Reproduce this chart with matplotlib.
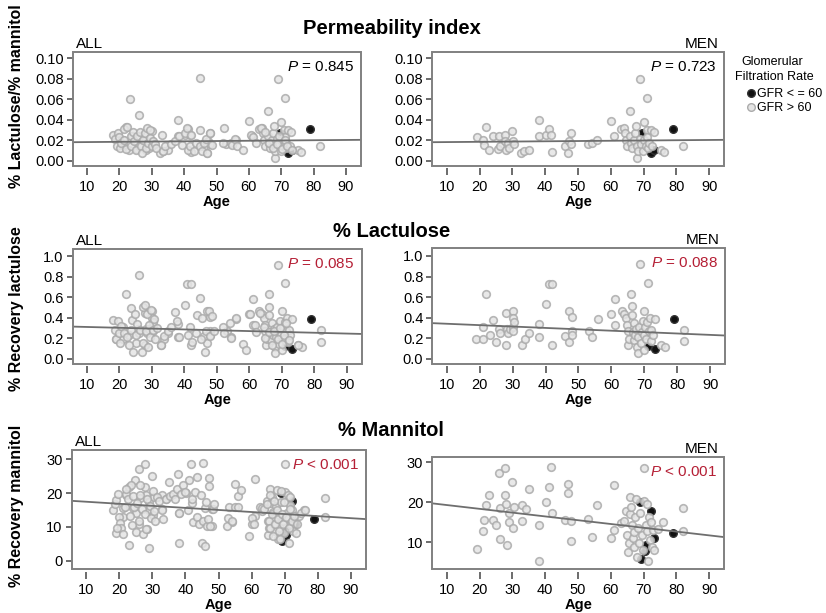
import matplotlib
matplotlib.use('Agg')
from matplotlib import pyplot as plt
from matplotlib.patches import Rectangle
from matplotlib.lines import Line2D
from matplotlib.ticker import FormatStrFormatter

plt.rcParams['font.family'] = ['Liberation Sans', 'DejaVu Sans']
plt.rcParams['mathtext.fontset'] = 'custom'
plt.rcParams['mathtext.rm'] = 'Liberation Sans'
plt.rcParams['mathtext.it'] = 'Liberation Sans:italic'

# ---- permeability index (lactulose / mannitol) ----
perm_men_age = [19.1, 21, 21.2, 22, 23, 24, 25.5, 26, 26.2, 27.6, 27.9, 28.1, 28.6, 29.1, 30, 30.2, 30.4,
                32.7, 33.4, 35, 38, 38, 40.2, 41.1, 41.7, 42.1, 46, 47, 47.3, 48, 48, 52.9, 54.4, 55.9,
                60, 61, 63.1, 64.1, 64.4, 64.7, 64.9, 65.8, 66, 66.2, 66.5, 67, 67.5, 67.8, 68, 68, 68.2,
                68.8, 69, 69.2, 69.8, 70, 70, 70.6, 70.9, 71, 71.1, 71.4, 71.6, 72.1, 72.6, 73.1, 75.2,
                76.2, 82.1]
perm_men_val = [0.023, 0.020, 0.015, 0.033, 0.010, 0.024, 0.011, 0.024, 0.014, 0.025, 0.019, 0.010, 0.017,
                0.012, 0.029, 0.019, 0.016, 0.007, 0.009, 0.010, 0.040, 0.024, 0.025, 0.031, 0.025, 0.008,
                0.014, 0.007, 0.019, 0.027, 0.016, 0.016, 0.017, 0.020, 0.039, 0.024, 0.031, 0.032, 0.027,
                0.020, 0.014, 0.049, 0.024, 0.017, 0.012, 0.020, 0.027, 0.034, 0.014, 0.003, 0.009, 0.021,
                0.080, 0.016, 0.009, 0.038, 0.020, 0.014, 0.030, 0.061, 0.023, 0.012, 0.017, 0.030, 0.014,
                0.028, 0.010, 0.008, 0.014]
perm_women_age = [17.9, 18.6, 19.2, 19.6, 19.9, 20.2, 20.6, 21.3, 21.5, 22, 22.3, 23.2, 23.5, 23.7, 24.3,
                  24.5, 25, 25.5, 26.1, 26.4, 26.6, 27.1, 27.4, 27.8, 28.1, 28.6, 28.8, 29.4, 29.6, 30.2,
                  30.5, 30.9, 31.2, 33.2, 33.5, 34.2, 36, 37.3, 38.3, 39.4, 40.4, 40.9, 41.1, 41.7, 42.1,
                  43.1, 43.8, 44.8, 45, 45, 45.5, 46.2, 46.8, 47.2, 48, 48.6, 52.4, 52, 54.7, 55.7, 56.4,
                  58.1, 60.8, 61.4, 62.2, 63.6, 64.9, 66.3, 67.3, 68.7, 69.3, 70.1, 71.1, 71.8, 73.4]
perm_women_val = [0.025, 0.021, 0.014, 0.027, 0.023, 0.012, 0.017, 0.031, 0.020, 0.011, 0.033, 0.060,
                  0.024, 0.014, 0.028, 0.019, 0.010, 0.024, 0.045, 0.028, 0.014, 0.007, 0.020, 0.027,
                  0.012, 0.032, 0.017, 0.022, 0.030, 0.014, 0.019, 0.016, 0.012, 0.025, 0.009, 0.014,
                  0.016, 0.019, 0.024, 0.015, 0.027, 0.032, 0.010, 0.014, 0.025, 0.009, 0.017, 0.014,
                  0.030, 0.081, 0.009, 0.017, 0.021, 0.007, 0.027, 0.015, 0.032, 0.017, 0.015, 0.021,
                  0.014, 0.010, 0.025, 0.023, 0.017, 0.032, 0.028, 0.017, 0.012, 0.016, 0.024, 0.011,
                  0.020, 0.014, 0.010]
perm_low_age = [69.5, 72.1, 73.3, 79]          # GFR <= 60
perm_low_val = [0.027, 0.007, 0.010, 0.031]
perm_fit_all = (0.01785, 0.000026)             # intercept, slope
perm_fit_men = (0.01785, 0.000026)

# ---- % lactulose ----
lac_men_age = [18.9, 21, 21, 23, 24, 25, 25.8, 26.1, 27.9, 27.9, 28.3, 28.6, 29.1, 30, 30, 30.2, 30.4,
               30.2, 32.7, 33.7, 35, 38, 38, 40.1, 40.9, 41.9, 42.1, 46, 47, 47, 48, 48, 48, 53.2, 54.2,
               55.9, 60, 61, 61, 63.1, 63.9, 64.4, 64.7, 64.9, 65.1, 65.4, 66, 66.2, 66.2, 66.5, 66.8,
               67, 67.2, 67.5, 67.8, 68, 68.2, 68.5, 68.8, 69, 69.2, 69.5, 69.8, 70, 70, 70.3, 70.6,
               70.9, 71.1, 71.4, 71.6, 71.9, 72.1, 72.6, 73.1, 75, 76.2, 82.1, 82.1, 22]
lac_men_val = [0.19, 0.19, 0.31, 0.23, 0.38, 0.16, 0.29, 0.25, 0.45, 0.14, 0.29, 0.25, 0.29, 0.47, 0.40,
               0.31, 0.36, 0.27, 0.14, 0.19, 0.25, 0.34, 0.21, 0.53, 0.73, 0.73, 0.14, 0.22, 0.16, 0.47,
               0.41, 0.27, 0.23, 0.27, 0.21, 0.39, 0.44, 0.58, 0.33, 0.47, 0.44, 0.40, 0.33, 0.27, 0.14,
               0.19, 0.63, 0.51, 0.43, 0.26, 0.18, 0.35, 0.23, 0.29, 0.12, 0.06, 0.21, 0.31, 0.92, 0.15,
               0.26, 0.37, 0.23, 0.47, 0.09, 0.31, 0.19, 0.36, 0.74, 0.27, 0.40, 0.17, 0.28, 0.23, 0.39,
               0.14, 0.12, 0.28, 0.17, 0.63]
lac_women_age = [17.9, 18.6, 18.9, 19.6, 19.9, 20.2, 20.6, 21.3, 22.3, 23, 23.5, 23.7, 24.3, 24.7, 25,
                 25.5, 26.1, 26.4, 26.8, 27.1, 27.4, 27.8, 28.1, 28.4, 28.8, 29.1, 29.4, 29.8, 30.2, 30.5,
                 30.9, 31.5, 32.9, 33.7, 35, 36, 37, 37.6, 38.3, 41.1, 41.7, 42.4, 43.5, 43.8, 44.8, 45.2,
                 45.5, 46.2, 46.8, 47.5, 48, 48.6, 49.1, 51.9, 52.3, 54, 54.4, 56, 58.1, 59.1, 60.3, 61.6,
                 61.9, 63.4, 64.4, 64.9, 66, 67, 67.5, 68.7, 69.5, 70, 70.6, 71.3, 72.1, 74.9]
lac_women_val = [0.38, 0.28, 0.19, 0.37, 0.25, 0.16, 0.32, 0.25, 0.21, 0.14, 0.50, 0.28, 0.07, 0.44,
                 0.23, 0.34, 0.82, 0.28, 0.07, 0.51, 0.16, 0.53, 0.27, 0.44, 0.12, 0.33, 0.21, 0.48, 0.28,
                 0.39, 0.19, 0.30, 0.14, 0.22, 0.27, 0.31, 0.46, 0.37, 0.21, 0.23, 0.31, 0.17, 0.25, 0.43,
                 0.59, 0.19, 0.40, 0.07, 0.27, 0.47, 0.22, 0.42, 0.27, 0.31, 0.25, 0.35, 0.20, 0.40, 0.15,
                 0.09, 0.44, 0.33, 0.26, 0.45, 0.31, 0.20, 0.26, 0.14, 0.27, 0.19, 0.30, 0.15, 0.23, 0.35,
                 0.18, 0.14]
lac_low_age = [71.1, 73.1, 79.1]
lac_low_val = [0.13, 0.10, 0.39]
lac_fit_all = (0.3197, -0.000803)
lac_fit_men = (0.355, -0.00135)

# ---- % mannitol ----
man_men_age = [19.1, 21, 21.2, 22, 23, 24, 25, 25.9, 26.1, 26.3, 27.9, 27.9, 28.1, 28.3, 28.9, 29.1, 30,
               30.2, 30.4, 33, 33, 34, 35, 38, 38.1, 40.1, 41.1, 41.7, 42.1, 46, 47, 47, 48, 48, 53.2,
               54.2, 55.9, 60, 61, 61, 63.1, 63.9, 64.7, 64.9, 65.1, 65.4, 65.7, 66, 66.2, 66.5, 66.8, 67,
               67.2, 67.5, 67.8, 68, 68.2, 68.5, 68.8, 69.5, 69.8, 70, 70, 70.6, 71.1, 71.1, 71.3, 71.6,
               71.9, 72.3, 72.6, 72.9, 73.3, 74.3, 76, 82.1, 82.1]
man_men_val = [8.3, 12.8, 15.5, 19.3, 21.7, 15.5, 14.2, 27.2, 10.8, 18.5, 28.5, 21.7, 19.5, 9.3, 15, 17.3,
               25, 13.5, 18.7, 19.3, 15.2, 18.3, 23.3, 14.2, 5.3, 20, 23.9, 28.7, 17.2, 15.6, 24.5, 22.2,
               15.2, 10.3, 15.8, 11.4, 19.2, 11, 24.2, 13.1, 14.8, 15.2, 17.7, 11.7, 7.5, 9.8, 21.2, 17,
               18.9, 14.3, 11, 8.7, 12.5, 16.2, 20.8, 6.4, 13.5, 9.8, 17.3, 11.7, 8.1, 28.5, 20.3, 14.2,
               12.7, 19.5, 5.3, 16.4, 10.6, 15, 8.7, 13.1, 8.1, 13.3, 15, 18.5, 12.8]
man_women_age = [18.1, 18.6, 19.1, 19.6, 19.9, 20.1, 20.6, 21.1, 19.3, 21.6, 21.9, 22.6, 22.9, 23.2, 23.7,
                 24.2, 24.4, 25, 25.4, 26, 26.4, 26.8, 27.3, 27.8, 28.1, 28.5, 29.1, 29.3, 29.5, 30.1,
                 30.5, 30.7, 31.3, 32.1, 32.8, 33.1, 34.1, 35.3, 36.3, 36.8, 37.3, 38.1, 38.8, 39.4,
                 39.9, 40.9, 42, 42.2, 43, 43.6, 44.2, 44.6, 44.9, 45.4, 45.9, 46.2, 46.4, 46.9, 47.4,
                 48.3, 48.7, 52.5, 53, 54, 55, 56, 59.1, 60.1, 60.8, 62.4, 63.1, 63.8, 64.7, 65.2, 65.5,
                 65.7, 66.2, 66.5, 66.9, 67.2, 67.7, 67.9, 68.2, 68.7, 68.9, 69.2, 69.5, 69.9, 70.5, 71.2,
                 71.5, 71.7, 72.2, 72.9, 73.7, 74.9, 76.3, 24.7, 23.4, 22.1, 26.2, 37.8, 43.4, 45.4, 55,
                 56.8]
man_women_val = [14.9, 16.8, 18.1, 19.8, 12.9, 11.2, 9.6, 7.9, 9.6, 15.8, 19.8, 18.3, 4.7, 13.2, 10.6,
                 19.1, 15.8, 8.6, 17.1, 11.9, 19.5, 15.3, 7.9, 13.9, 9.4, 18.3, 3.7, 16.3, 12.6, 20.5,
                 14.6, 11.9, 18.8, 17.8, 15.1, 12.4, 18.3, 19.1, 19.8, 18.3, 21.3, 14.2, 19.8, 22.5,
                 20.3, 14.9, 18.3, 11.6, 20.3, 12.9, 10.9, 19.3, 5.4, 11.9, 4.5, 17.3, 10.4, 12.4, 10.4,
                 15.3, 16.8, 10.4, 12.6, 11.9, 15.8, 15.8, 7.2, 12.6, 10.9, 15.8, 15.5, 15.3, 16.8, 11.9,
                 19.3, 9.6, 13.9, 7.4, 17.8, 10.9, 15.1, 12.4, 8.9, 6.4, 20.5, 13.7, 10.9, 17.3, 12.9,
                 9.6, 18.8, 15.3, 11.9, 13.2, 10.9, 14.2, 15.1, 24, 22.5, 21.1, 22.3, 25.6, 24.8, 29,
                 22.8, 20.8]
man_low_age = [69, 69.2, 70.3, 70.8, 72.1, 73.1, 79]
man_low_val = [20, 5.8, 7.7, 9.2, 17.8, 11, 12.3]
man_fit_all = (18.05, -0.0606)
man_fit_men = (20.25, -0.0949)

RED = '#b51f35'
GRAY_FACE = '#e4e4e4'
GRAY_EDGE = '#ababab'


def panel(ax, ages, vals, low_age, low_val, fit, ylim, yticks, fmt, ptext, pcolor, group):
    ax.scatter(low_age, low_val, s=30, facecolor='#111111', edgecolor='#333333', lw=1.0, zorder=2)
    ax.scatter(ages, vals, s=30, facecolor=GRAY_FACE, edgecolor=GRAY_EDGE, lw=1.2, alpha=0.85, zorder=3)
    xlim = (5.6, 94.6)
    ax.plot(xlim, [fit[0] + fit[1] * x for x in xlim], color='#6e6e6e', lw=1.3, zorder=4)
    ax.set_xlim(xlim)
    ax.set_ylim(ylim)
    ax.set_xticks(range(10, 91, 10))
    ax.set_yticks(yticks)
    ax.yaxis.set_major_formatter(FormatStrFormatter(fmt))
    for sp in ax.spines.values():
        sp.set_color('none')
    ax.spines['bottom'].set_position(('outward', 2))
    ax.add_patch(Rectangle((0, 0), 1, 1, transform=ax.transAxes, fill=False,
                           ec='#808080', lw=1.4, clip_on=False, zorder=5))
    ax.tick_params(axis='x', direction='out', length=5, width=1.1, color='#444444',
                   labelsize=10.5, pad=3)
    ax.tick_params(axis='y', direction='out', length=4.5, width=1.1, color='#444444',
                   labelsize=10.5, pad=2)
    ax.set_xlabel('Age', fontsize=10.5, fontweight='bold', labelpad=1)
    ax.text(0.975, 0.93, ptext, transform=ax.transAxes, ha='right', va='top',
            fontsize=11, color=pcolor, zorder=6)
    if group == 'ALL':
        ax.text(0.01, 1.01, group, transform=ax.transAxes, ha='left', va='bottom', fontsize=11)
    else:
        ax.text(0.98, 1.01, group, transform=ax.transAxes, ha='right', va='bottom', fontsize=11)


fig = plt.figure(figsize=(8.26, 6.13), dpi=100)

all_perm_age = perm_men_age + perm_women_age
all_perm_val = perm_men_val + perm_women_val
all_lac_age = lac_men_age + lac_women_age
all_lac_val = lac_men_val + lac_women_val
all_man_age = man_men_age + man_women_age
all_man_val = man_men_val + man_women_val

perm_ticks = [0.0, 0.02, 0.04, 0.06, 0.08, 0.10]
lac_ticks = [0.0, 0.2, 0.4, 0.6, 0.8, 1.0]

ax = fig.add_axes([0.088, 0.7297, 0.349, 0.185])
panel(ax, all_perm_age, all_perm_val, perm_low_age, perm_low_val, perm_fit_all,
      (-0.005, 0.106), perm_ticks, '%.2f', '$P$ = 0.845', 'black', 'ALL')
ax = fig.add_axes([0.5234, 0.7297, 0.3535, 0.185])
panel(ax, perm_men_age, perm_men_val, perm_low_age, perm_low_val, perm_fit_men,
      (-0.005, 0.106), perm_ticks, '%.2f', '$P$ = 0.723', 'black', 'MEN')

ax = fig.add_axes([0.088, 0.4067, 0.3499, 0.1876])
panel(ax, all_lac_age, all_lac_val, lac_low_age, lac_low_val, lac_fit_all,
      (-0.046, 1.074), lac_ticks, '%.1f', '$P$ = 0.085', RED, 'ALL')
ax = fig.add_axes([0.5234, 0.4067, 0.3547, 0.1883])
panel(ax, lac_men_age, lac_men_val, lac_low_age, lac_low_val, lac_fit_men,
      (-0.046, 1.074), lac_ticks, '%.1f', '$P$ = 0.088', RED, 'MEN')

ax = fig.add_axes([0.0868, 0.0718, 0.3563, 0.1946])
panel(ax, all_man_age, all_man_val, man_low_age, man_low_val, man_fit_all,
      (-2.4, 32.8), [0, 10, 20, 30], '%d', '$P$ < 0.001', RED, 'ALL')
ax = fig.add_axes([0.5234, 0.0718, 0.3535, 0.1832])
panel(ax, man_men_age, man_men_val, man_low_age, man_low_val, man_fit_men,
      (3.3, 31.4), [10, 20, 30], '%d', '$P$ < 0.001', RED, 'MEN')

# row titles and y labels
fig.text(0.475, 0.954, 'Permeability index', ha='center', va='center', fontsize=14.5, fontweight='bold')
fig.text(0.474, 0.623, '% Lactulose', ha='center', va='center', fontsize=14.5, fontweight='bold')
fig.text(0.473, 0.298, '% Mannitol', ha='center', va='center', fontsize=14.5, fontweight='bold')
fig.text(0.020, 0.843, '% Lactulose/% mannitol', rotation=90, ha='center', va='center',
         fontsize=11.5, fontweight='bold')
fig.text(0.020, 0.497, '% Recovery lactulose', rotation=90, ha='center', va='center',
         fontsize=11.5, fontweight='bold')
fig.text(0.020, 0.175, '% Recovery mannitol', rotation=90, ha='center', va='center',
         fontsize=11.5, fontweight='bold')

# legend
fig.text(0.935, 0.899, 'Glomerular', ha='center', va='center', fontsize=9)
fig.text(0.938, 0.874, 'Filtration Rate', ha='center', va='center', fontsize=9)
handles = [Line2D([], [], ls='', marker='o', ms=5.5, mfc='#111111', mec='#333333'),
           Line2D([], [], ls='', marker='o', ms=5.5, mfc=GRAY_FACE, mec=GRAY_EDGE)]
fig.legend(handles, ['GFR < = 60', 'GFR > 60'], loc='upper left',
           bbox_to_anchor=(0.894, 0.866), frameon=False, fontsize=9,
           handletextpad=0.0, labelspacing=0.12, borderpad=0, handlelength=1.0)

fig.savefig('out.png', dpi=100)
